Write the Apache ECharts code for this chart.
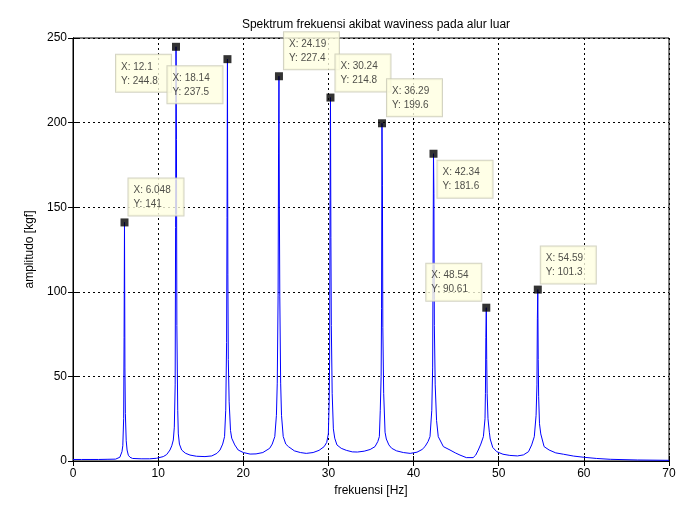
<!DOCTYPE html>
<html>
<head>
<meta charset="utf-8" />
<title>Spektrum frekuensi</title>
<script src="https://cdn.jsdelivr.net/npm/echarts@6/dist/echarts.min.js"></script>
<style>
  html, body { margin: 0; padding: 0; background: #fff; }
  #chart { width: 693px; height: 520px; }
</style>
</head>
<body>
<div id="chart"></div>
<script>
// spectrum samples
var freq = [0, 1, 2, 3, 4, 5.0, 5.5, 5.75, 5.85, 5.95, 6.0, 6.048, 6.1, 6.15, 6.25, 6.35, 6.5, 6.7, 7.0, 8.0, 9.0,
  9.8, 10.6, 11.0, 11.39, 11.6, 11.78, 11.9, 12.0, 12.05, 12.1, 12.15, 12.2, 12.3, 12.37, 12.5, 12.76, 13.2, 13.74,
  14.5, 15.5, 16.3, 16.9, 17.27, 17.58, 17.8, 17.94, 18.04, 18.09, 18.14, 18.19, 18.24, 18.34, 18.5, 18.64, 19.0,
  19.4, 20.0, 20.8, 21.5, 22.3, 23.1, 23.4, 23.7, 23.89, 23.99, 24.09, 24.14, 24.19, 24.24, 24.29, 24.39, 24.49,
  24.69, 24.99, 25.3, 26.0, 26.7, 27.4, 28.2, 28.9, 29.5, 29.8, 29.99, 30.09, 30.14, 30.19, 30.24, 30.29, 30.34,
  30.44, 30.58, 30.74, 31.0, 31.5, 32.1, 32.8, 33.4, 34.2, 34.9, 35.47, 35.8, 35.98, 36.09, 36.19, 36.24, 36.29,
  36.34, 36.39, 36.49, 36.65, 36.8, 37.1, 37.43, 38.0, 38.8, 39.6, 40.4, 41.0, 41.34, 41.7, 41.93, 42.14, 42.24,
  42.29, 42.34, 42.39, 42.44, 42.54, 42.7, 42.9, 43.5, 44.28, 44.9, 45.45, 46.2, 47.0, 47.3, 47.6, 47.9, 48.2,
  48.39, 48.44, 48.49, 48.54, 48.59, 48.64, 48.74, 48.9, 49.0, 49.3, 49.77, 50.5, 51.3, 52.2, 52.9, 53.5, 53.87,
  54.18, 54.39, 54.49, 54.54, 54.59, 54.64, 54.69, 54.79, 54.94, 55.33, 55.92, 56.7, 57.6, 58.8, 60.0, 61.5,
  63.1, 66.3, 70.0];
var amp = [0.9, 0.9, 0.9, 0.9, 1.0, 1.1, 2.2, 5.5, 9, 25, 73, 141, 55, 28, 12, 6.5, 3.4, 2.2, 1.5, 1.3, 1.3,
  1.6, 2.6, 3.8, 6.5, 9, 12.4, 20, 45, 138, 244.8, 190, 80, 30, 16, 10, 6.5, 4.6, 3.5,
  2.8, 2.6, 3.0, 4.5, 6.5, 10, 14.4, 30, 70, 144, 237.5, 110, 60, 35, 18, 13.5, 9.5,
  6.5, 5.0, 4.1, 4.2, 5.0, 7.5, 10, 14.4, 27, 46, 98, 182, 227.4, 150, 97, 46, 27,
  14.5, 10, 8.5, 6.0, 5.0, 4.5, 5.0, 6.3, 8.5, 11, 16, 35, 60, 154, 214.8, 132, 80,
  40, 19, 13.5, 9.5, 7.5, 6.3, 5.4, 5.3, 5.8, 6.8, 8.5, 11.5, 14.4, 30, 50, 90, 199.6,
  163, 79, 40, 17, 13, 9.5, 7.5, 6.0, 5.0, 4.5, 5.2, 6.8, 8.5, 11.5, 14.4, 30, 55,
  117, 181.6, 158, 80, 45, 24, 14.4, 8.5, 6.5, 4.8, 3.5, 2.0, 2.0, 3.5, 6.5, 10, 14.4,
  25, 40, 73, 90.61, 60, 40, 25, 17, 13, 8, 5.5, 4.0, 3.3, 3.0, 3.6, 5.5, 9.5,
  14.4, 27, 45, 84, 101.3, 60, 38, 22, 16, 8.5, 6.5, 4.8, 4.0, 2.9, 2.2, 1.5,
  1.0, 0.6, 0.4];

// data tips
var tipX = [6.048, 12.1, 18.14, 24.19, 30.24, 36.29, 42.34, 48.54, 54.59];
var tipY = [141, 244.8, 237.5, 227.4, 214.8, 199.6, 181.6, 90.61, 101.3];
// where each tip box sits relative to its marker
var tipPos = [[8, -40], [-56, 12], [-56, 11], [9, -40], [9, -39], [9, -40], [8, 11], [-56, -40], [7, -39]];

var xTicks = [0, 10, 20, 30, 40, 50, 60, 70];
var yTicks = [0, 50, 100, 150, 200, 250];

var chart = echarts.init(document.getElementById('chart'));

var lineData = [];
for (var i = 0; i < freq.length; i++) {
  lineData.push([freq[i], amp[i]]);
}
var tipData = [];
for (var j = 0; j < tipX.length; j++) {
  tipData.push({
    value: [tipX[j], tipY[j]],
    label: { position: tipPos[j] }
  });
}

var font = 'Liberation Sans';
var gridDash = { show: true, lineStyle: { color: '#000', type: [2, 3], width: 1 } };

var option = {
  backgroundColor: '#fff',
  animation: false,
  title: {
    text: 'Spektrum frekuensi akibat waviness pada alur luar',
    left: 371,
    top: 14,
    textAlign: 'center',
    textStyle: { fontFamily: font, fontSize: 12, fontWeight: 'normal', color: '#000' }
  },
  grid: { left: 73, right: 24, top: 38, bottom: 59, show: true, borderColor: '#000', borderWidth: 1 },
  xAxis: [{
    type: 'value',
    min: xTicks[0],
    max: xTicks[xTicks.length - 1],
    interval: 10,
    name: 'frekuensi [Hz]',
    nameLocation: 'middle',
    nameGap: 24,
    nameTextStyle: { fontFamily: font, fontSize: 12, color: '#000' },
    axisLine: { show: true, lineStyle: { color: '#000' } },
    axisTick: { show: true, inside: true, length: 5, lineStyle: { color: '#000' } },
    axisLabel: { fontFamily: font, fontSize: 12, color: '#000', margin: 7 },
    splitLine: gridDash
  }, {
    type: 'value',
    position: 'top',
    min: xTicks[0],
    max: xTicks[xTicks.length - 1],
    interval: 10,
    axisLine: { show: true, lineStyle: { color: '#000' } },
    axisTick: { show: true, inside: true, length: 5, lineStyle: { color: '#000' } },
    axisLabel: { show: false },
    splitLine: { show: false }
  }],
  yAxis: [{
    type: 'value',
    min: yTicks[0],
    max: yTicks[yTicks.length - 1],
    interval: 50,
    name: 'amplitudo [kgf]',
    nameLocation: 'middle',
    nameGap: 28,
    nameTextStyle: { fontFamily: font, fontSize: 12, color: '#000' },
    axisLine: { show: true, lineStyle: { color: '#000' } },
    axisTick: { show: true, inside: true, length: 5, lineStyle: { color: '#000' } },
    axisLabel: { fontFamily: font, fontSize: 12, color: '#000', margin: 6 },
    splitLine: gridDash
  }, {
    type: 'value',
    position: 'right',
    min: yTicks[0],
    max: yTicks[yTicks.length - 1],
    interval: 50,
    axisLine: { show: true, lineStyle: { color: '#000' } },
    axisTick: { show: true, inside: true, length: 5, lineStyle: { color: '#000' } },
    axisLabel: { show: false },
    splitLine: { show: false }
  }],
  series: [{
    type: 'line',
    data: lineData,
    showSymbol: false,
    clip: true,
    lineStyle: { color: '#0000ff', width: 1 },
    z: 3
  }, {
    type: 'scatter',
    data: tipData,
    symbol: 'rect',
    symbolSize: 8,
    itemStyle: { color: '#000' },
    z: 5,
    label: {
      show: true,
      formatter: function (p) { return 'X: ' + p.value[0] + '\nY: ' + p.value[1]; },
      fontFamily: font,
      fontSize: 10,
      lineHeight: 14,
      width: 46,
      overflow: 'none',
      color: '#222',
      align: 'left',
      verticalAlign: 'top',
      backgroundColor: '#ffffe1',
      borderColor: '#c8c8b4',
      borderWidth: 1,
      padding: [5, 4, 4, 5]
    }
  }]
};

chart.setOption(option);
</script>
</body>
</html>
